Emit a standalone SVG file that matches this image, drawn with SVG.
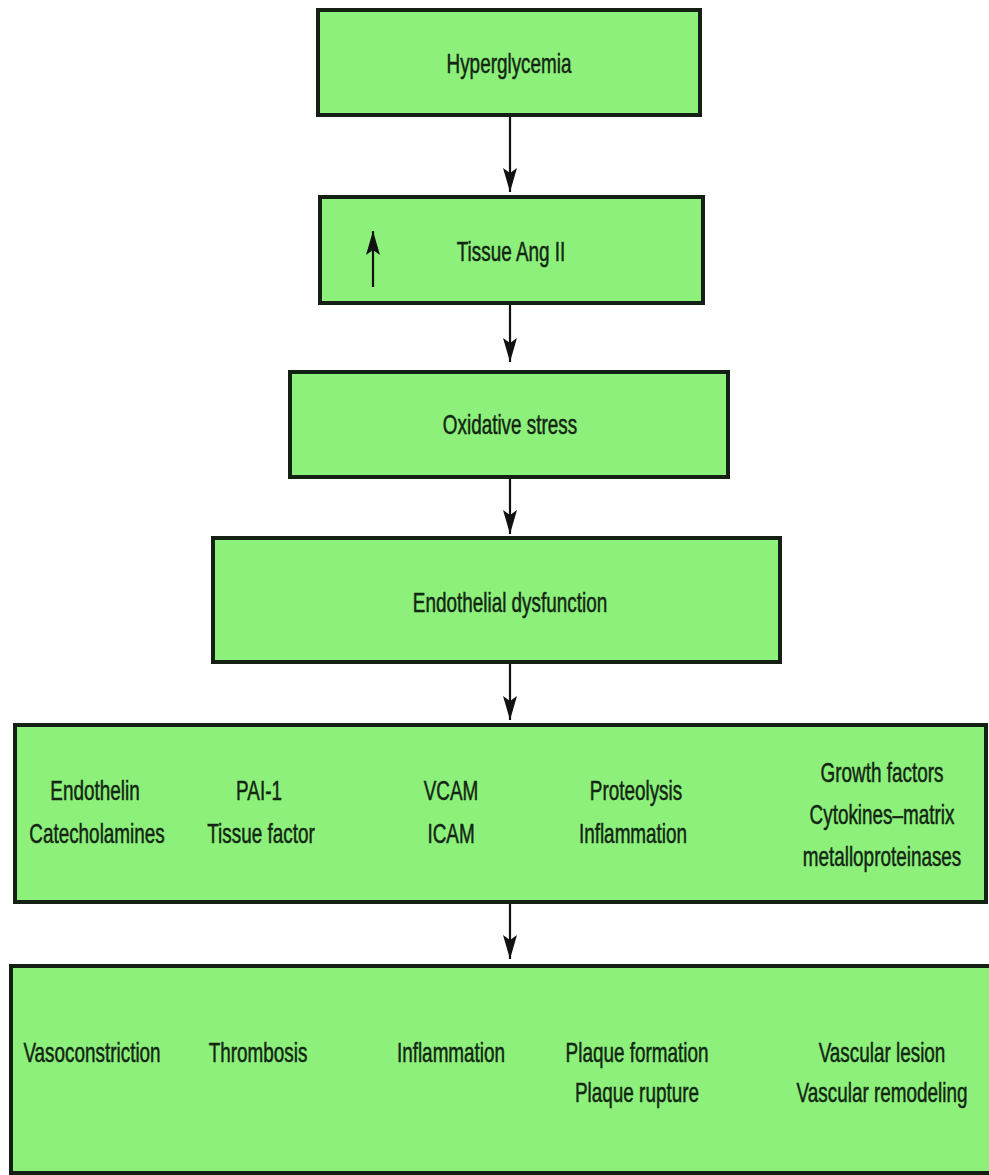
<svg xmlns="http://www.w3.org/2000/svg" width="989" height="1175" viewBox="0 0 989 1175">
<defs>
<style>
.box{fill:#8CF07B;stroke:#142014;stroke-width:4}
.t{font-family:"Liberation Sans",Arial,sans-serif;font-size:27px;fill:#132613;stroke:#132613;stroke-width:0.5;text-anchor:middle}
.c{stroke:#111;stroke-width:2.2;fill:none}
</style>
<marker id="ah" markerUnits="userSpaceOnUse" markerWidth="26" markerHeight="14" refX="24" refY="7" orient="auto" viewBox="0 0 26 14">
<path d="M0,0 L24,7 L0,14 L5,7 z" fill="#111"/>
</marker>
</defs>
<rect width="989" height="1175" fill="#fff"/>
<g id="connectors">
<line class="c" x1="510" y1="115" x2="510" y2="192" marker-end="url(#ah)"/>
<line class="c" x1="510" y1="303" x2="510" y2="362" marker-end="url(#ah)"/>
<line class="c" x1="510" y1="477" x2="510" y2="534" marker-end="url(#ah)"/>
<line class="c" x1="510" y1="662" x2="510" y2="720" marker-end="url(#ah)"/>
<line class="c" x1="510" y1="902" x2="510" y2="959" marker-end="url(#ah)"/>
</g>
<g id="n1">
<rect class="box" x="318" y="10" width="382" height="105"/>
<text class="t" transform="translate(509,73) scale(0.7,1)">Hyperglycemia</text>
</g>
<g id="n2">
<rect class="box" x="320" y="197" width="383" height="106"/>
<line class="c" x1="373" y1="287" x2="373" y2="231" marker-end="url(#ah)"/>
<text class="t" transform="translate(511,261) scale(0.7,1)">Tissue Ang II</text>
</g>
<g id="n3">
<rect class="box" x="290" y="372" width="438" height="105"/>
<text class="t" transform="translate(510,434) scale(0.7,1)">Oxidative stress</text>
</g>
<g id="n4">
<rect class="box" x="213" y="538" width="567" height="124"/>
<text class="t" transform="translate(510,612) scale(0.7,1)">Endothelial dysfunction</text>
</g>
<g id="n5">
<rect class="box" x="15" y="725" width="971" height="177"/>
<text class="t" transform="translate(95,800) scale(0.7,1)">Endothelin</text>
<text class="t" transform="translate(97,843) scale(0.7,1)">Catecholamines</text>
<text class="t" transform="translate(259,800) scale(0.7,1)">PAI-1</text>
<text class="t" transform="translate(261,843) scale(0.7,1)">Tissue factor</text>
<text class="t" transform="translate(451,800) scale(0.7,1)">VCAM</text>
<text class="t" transform="translate(451,843) scale(0.7,1)">ICAM</text>
<text class="t" transform="translate(636,800) scale(0.7,1)">Proteolysis</text>
<text class="t" transform="translate(633,843) scale(0.7,1)">Inflammation</text>
<text class="t" transform="translate(882,782) scale(0.7,1)">Growth factors</text>
<text class="t" transform="translate(882,824) scale(0.7,1)">Cytokines–matrix</text>
<text class="t" transform="translate(882,866) scale(0.7,1)">metalloproteinases</text>
</g>
<g id="n6">
<rect class="box" x="11" y="966" width="980" height="207"/>
<text class="t" transform="translate(92,1062) scale(0.7,1)">Vasoconstriction</text>
<text class="t" transform="translate(258,1062) scale(0.7,1)">Thrombosis</text>
<text class="t" transform="translate(451,1062) scale(0.7,1)">Inflammation</text>
<text class="t" transform="translate(637,1062) scale(0.7,1)">Plaque formation</text>
<text class="t" transform="translate(637,1102) scale(0.7,1)">Plaque rupture</text>
<text class="t" transform="translate(882,1062) scale(0.7,1)">Vascular lesion</text>
<text class="t" transform="translate(882,1102) scale(0.7,1)">Vascular remodeling</text>
</g>
</svg>
